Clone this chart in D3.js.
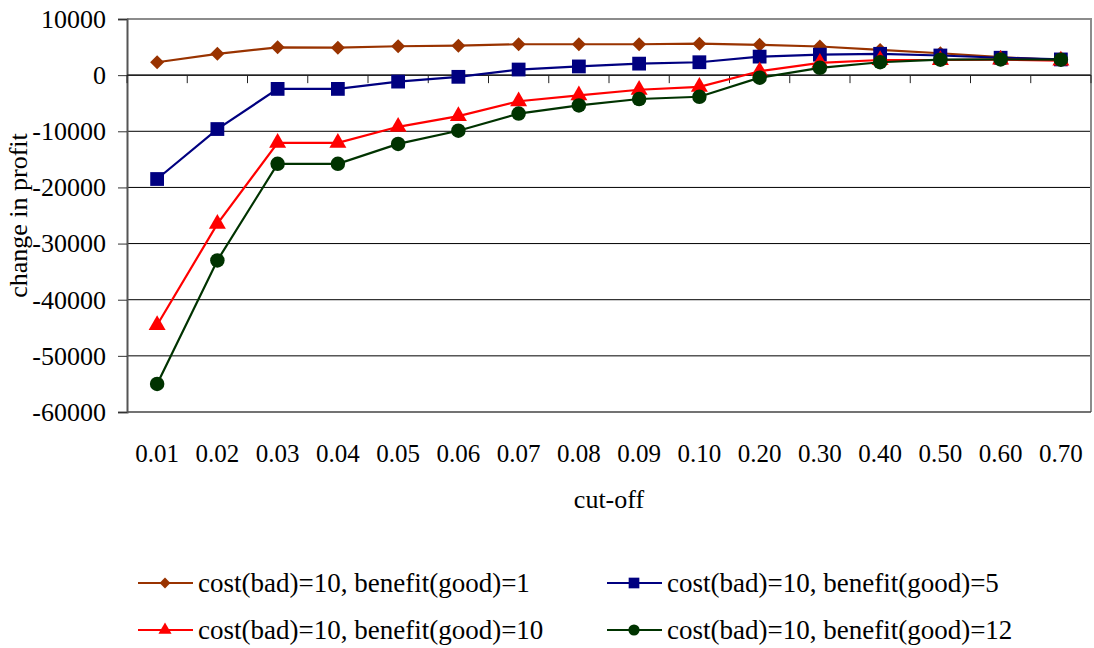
<!DOCTYPE html>
<html>
<head>
<meta charset="utf-8">
<script src="https://cdn.jsdelivr.net/npm/d3@7"></script>
<style>
    body { margin: 0; background: white; }
</style>
</head>
<body>
<svg id="chartSVG"></svg>
<script>
const cutOffs = ["0.01", "0.02", "0.03", "0.04", "0.05", "0.06", "0.07", "0.08",
    "0.09", "0.10", "0.20", "0.30", "0.40", "0.50", "0.60", "0.70"];
const yTicks = [10000, 0, -10000, -20000, -30000, -40000, -50000, -60000];
const seriesNames = [
    "cost(bad)=10, benefit(good)=1",
    "cost(bad)=10, benefit(good)=5",
    "cost(bad)=10, benefit(good)=10",
    "cost(bad)=10, benefit(good)=12"
];
const benefit1 = [2300, 3800, 4950, 4900, 5150, 5250, 5500, 5500, 5500, 5600, 5400, 5100, 4500, 3900, 3200, 2700];
const benefit5 = [-18500, -9600, -2450, -2450, -1150, -300, 1000, 1550, 2050, 2300, 3300, 3650, 3800, 3500, 3100, 2800];
const benefit10 = [-44500, -26500, -12050, -12050, -9200, -7300, -4650, -3600, -2600, -2100, 700, 2200, 2700, 2700, 2750, 2600];
const benefit12 = [-55000, -33000, -15800, -15800, -12250, -9900, -6850, -5400, -4250, -3850, -450, 1300, 2300, 2750, 2800, 2750];

const width = 1094;
const height = 648;
const plotLeft = 127, plotRight = 1091, plotTop = 19, plotBottom = 412;
const lineWidth = 2.2;
const fontSize = 26;
const fontFamily = "Liberation Serif";

const series = [
    { name: seriesNames[0], values: benefit1, color: "#993300", shape: "diamond" },
    { name: seriesNames[1], values: benefit5, color: "#000080", shape: "square" },
    { name: seriesNames[2], values: benefit10, color: "#ff0000", shape: "triangle" },
    { name: seriesNames[3], values: benefit12, color: "#003300", shape: "circle" }
];

const svg = d3.select("#chartSVG")
    .attr("width", width)
    .attr("height", height)
    .style("font-family", fontFamily);

const x = d3.scaleBand()
    .domain(cutOffs)
    .range([plotLeft, plotRight]);
const xMid = d => x(d) + x.bandwidth() / 2;
const y = d3.scaleLinear()
    .domain([-60000, 10000])
    .range([plotBottom, plotTop]);

// gridlines
svg.append("g")
    .selectAll("line")
    .data(yTicks.filter(d => d !== 10000 && d !== -60000))
    .enter()
    .append("line")
    .attr("x1", plotLeft)
    .attr("x2", plotRight)
    .attr("y1", d => y(d))
    .attr("y2", d => y(d))
    .attr("stroke", "#000")
    .attr("stroke-width", 1);

// plot frame: top and right grey, bottom dark
svg.append("path")
    .attr("d", `M${plotLeft},${y(10000)}H${plotRight}V${plotBottom}`)
    .attr("fill", "none")
    .attr("stroke", "#8c8c8c")
    .attr("stroke-width", 2);
svg.append("line")
    .attr("x1", plotLeft).attr("x2", plotRight)
    .attr("y1", plotBottom).attr("y2", plotBottom)
    .attr("stroke", "#444").attr("stroke-width", 1.5);

// y axis
const yAxis = svg.append("g")
    .attr("transform", `translate(${plotLeft},0)`)
    .call(d3.axisLeft(y).tickValues(yTicks).tickSize(9).tickPadding(12).tickFormat(d => d.toString()))
    .attr("font-family", null)
    .attr("font-size", null);
yAxis.select(".domain").attr("stroke", "#555").attr("stroke-width", 2);
yAxis.selectAll(".tick line").attr("stroke", "#333");
yAxis.selectAll(".tick text")
    .style("font-family", fontFamily)
    .style("font-size", fontSize + "px")
    .attr("fill", "#000");

// x axis on the zero line, ticks between categories
svg.append("line")
    .attr("x1", plotLeft).attr("x2", plotRight)
    .attr("y1", y(0)).attr("y2", y(0))
    .attr("stroke", "#222").attr("stroke-width", 1.5);
svg.append("g")
    .selectAll("line")
    .data(cutOffs.concat(["end"]))
    .enter()
    .append("line")
    .attr("x1", (d, i) => plotLeft + i * x.bandwidth())
    .attr("x2", (d, i) => plotLeft + i * x.bandwidth())
    .attr("y1", y(0))
    .attr("y2", y(0) + 8)
    .attr("stroke", "#222");

// category labels below the plot
svg.append("g")
    .selectAll("text")
    .data(cutOffs)
    .enter()
    .append("text")
    .attr("x", xMid)
    .attr("y", 462)
    .attr("text-anchor", "middle")
    .style("font-size", "25px")
    .text(d => d);

// axis titles
svg.append("text")
    .attr("x", (plotLeft + plotRight) / 2)
    .attr("y", 508)
    .attr("text-anchor", "middle")
    .style("font-size", fontSize + "px")
    .text("cut-off");
svg.append("text")
    .attr("transform", `translate(27, ${(plotTop + plotBottom) / 2}) rotate(-90)`)
    .attr("text-anchor", "middle")
    .style("font-size", fontSize + "px")
    .text("change in profit");

const symbolFor = (shape, scale = 1) => {
    if (shape === "diamond") return d3.symbol().type(d3.symbolDiamond2).size(125 * scale)();
    if (shape === "square") return d3.symbol().type(d3.symbolSquare).size(190 * scale)();
    if (shape === "triangle") return d3.symbol().type(d3.symbolTriangle).size(125 * scale)();
    return d3.symbol().type(d3.symbolCircle).size(165 * scale)();
};

const line = d3.line()
    .x((d, i) => xMid(cutOffs[i]))
    .y(d => y(d));

// draw lines and markers
series.forEach(s => {
    const group = svg.append("g");
    group.append("path")
        .attr("d", line(s.values))
        .attr("fill", "none")
        .attr("stroke", s.color)
        .attr("stroke-width", lineWidth);
    group.selectAll("path.marker")
        .data(s.values)
        .enter()
        .append("path")
        .attr("class", "marker")
        .attr("d", symbolFor(s.shape))
        .attr("transform", (d, i) => `translate(${xMid(cutOffs[i])},${y(d)})`)
        .attr("fill", s.color);
});

// legend
const legendPos = [[138, 583], [607, 583], [138, 630], [607, 630]];
series.forEach((s, i) => {
    const g = svg.append("g")
        .attr("transform", `translate(${legendPos[i][0]},${legendPos[i][1]})`);
    g.append("line")
        .attr("x1", 0).attr("x2", 55)
        .attr("y1", 0).attr("y2", 0)
        .attr("stroke", s.color)
        .attr("stroke-width", lineWidth);
    g.append("path")
        .attr("d", symbolFor(s.shape, 0.6))
        .attr("transform", "translate(27,0)")
        .attr("fill", s.color);
    g.append("text")
        .attr("x", 60)
        .attr("y", 9)
        .style("font-size", "27px")
        .text(s.name);
});
</script>
</body>
</html>
